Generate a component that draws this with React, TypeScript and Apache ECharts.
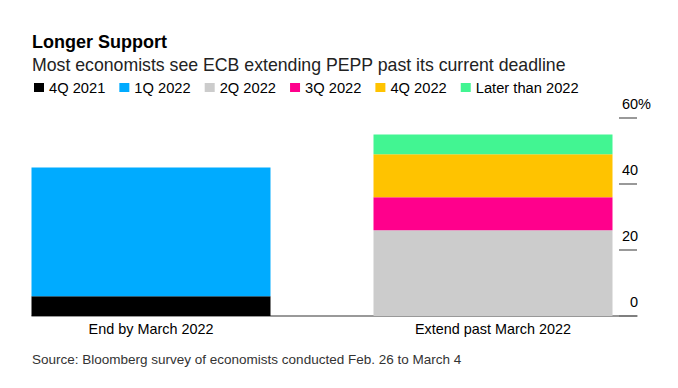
import React, { useEffect, useRef } from "react";
import * as echarts from "echarts";

const categories = ["End by March 2022", "Extend past March 2022"];
const seriesNames = ["4Q 2021", "1Q 2022", "2Q 2022", "3Q 2022", "4Q 2022", "Later than 2022"];
const seriesColors = ["#000000", "#00abff", "#cccccc", "#ff008c", "#ffc300", "#42f592"];
const q4_2021 = [6, null];
const q1_2022 = [39, null];
const q2_2022 = [null, 26];
const q3_2022 = [null, 10];
const q4_2022 = [null, 13];
const later2022 = [null, 6];
const seriesValues = [q4_2021, q1_2022, q2_2022, q3_2022, q4_2022, later2022];
const yTicks = [0, 20, 40, 60];

const FONT = "'Liberation Sans', Arial, Helvetica, sans-serif";

export default function App() {
  const ref = useRef<HTMLDivElement>(null);
  useEffect(() => {
    if (!ref.current) return;
    const chart = echarts.init(ref.current, undefined, { renderer: "svg" });
    const gridTop = 118;
    const gridBottom = 72;
    chart.setOption({
      animation: false,
      backgroundColor: "#ffffff",
      textStyle: { fontFamily: FONT },
      title: [
        {
          text: "Longer Support",
          left: 32,
          top: 33,
          padding: 0,
          textStyle: { fontFamily: FONT, fontSize: 18, fontWeight: "bold", color: "#000" },
        },
        {
          text: "Most economists see ECB extending PEPP past its current deadline",
          left: 32,
          top: 56,
          padding: 0,
          textStyle: { fontFamily: FONT, fontSize: 17.7, fontWeight: "normal", color: "#222" },
        },
        {
          text: "Source: Bloomberg survey of economists conducted Feb. 26 to March 4",
          left: 32,
          top: 352,
          padding: 0,
          textStyle: { fontFamily: FONT, fontSize: 13.5, fontWeight: "normal", color: "#333" },
        },
      ],
      legend: {
        data: seriesNames,
        left: 34,
        top: 80,
        padding: 0,
        icon: "rect",
        itemWidth: 10,
        itemHeight: 9,
        itemGap: 14,
        textStyle: { fontFamily: FONT, fontSize: 14.7, color: "#000" },
      },
      grid: [
        { left: 151, right: 185, top: gridTop, bottom: gridBottom },
        { left: 32, right: 41, top: gridTop, bottom: gridBottom },
      ],
      xAxis: [
        {
          type: "category",
          gridIndex: 0,
          data: categories,
          boundaryGap: false,
          axisLine: { show: false },
          axisTick: { show: false },
          axisLabel: { fontFamily: FONT, fontSize: 14.4, color: "#000", margin: 6 },
        },
        {
          type: "category",
          gridIndex: 1,
          data: categories,
          axisLine: { show: true, lineStyle: { color: "#777", width: 1.5 } },
          axisTick: { show: false },
          axisLabel: { show: false },
        },
      ],
      yAxis: [
        {
          type: "value",
          gridIndex: 0,
          min: 0,
          max: 60,
          interval: 20,
          show: false,
          splitLine: { show: false },
        },
        {
          type: "value",
          gridIndex: 1,
          position: "right",
          min: yTicks[0],
          max: yTicks[yTicks.length - 1],
          interval: 20,
          axisLine: { show: false },
          splitLine: { show: false },
          axisTick: { show: true, inside: true, length: 18, lineStyle: { color: "#777", width: 1.5 } },
          axisLabel: {
            fontFamily: FONT,
            fontSize: 14.5,
            color: "#000",
            align: "right",
            verticalAlign: "bottom",
            margin: 14,
            padding: [0, 0, 7, 0],
            formatter: (v: number) => (v === 60 ? "60%" : v + "{h|%}"),
            rich: { h: { color: "rgba(0,0,0,0)", fontSize: 14.5, fontFamily: FONT } },
          },
        },
      ],
      series: seriesNames.map((name, i) => ({
        name,
        type: "bar",
        stack: "total",
        xAxisIndex: 0,
        yAxisIndex: 0,
        barWidth: 239,
        itemStyle: { color: seriesColors[i] },
        data: seriesValues[i].map((v) => (v === null ? "-" : v)),
      })),
    });
    return () => chart.dispose();
  }, []);
  return <div ref={ref} style={{ width: 678, height: 388, margin: -8 }} />;
}
